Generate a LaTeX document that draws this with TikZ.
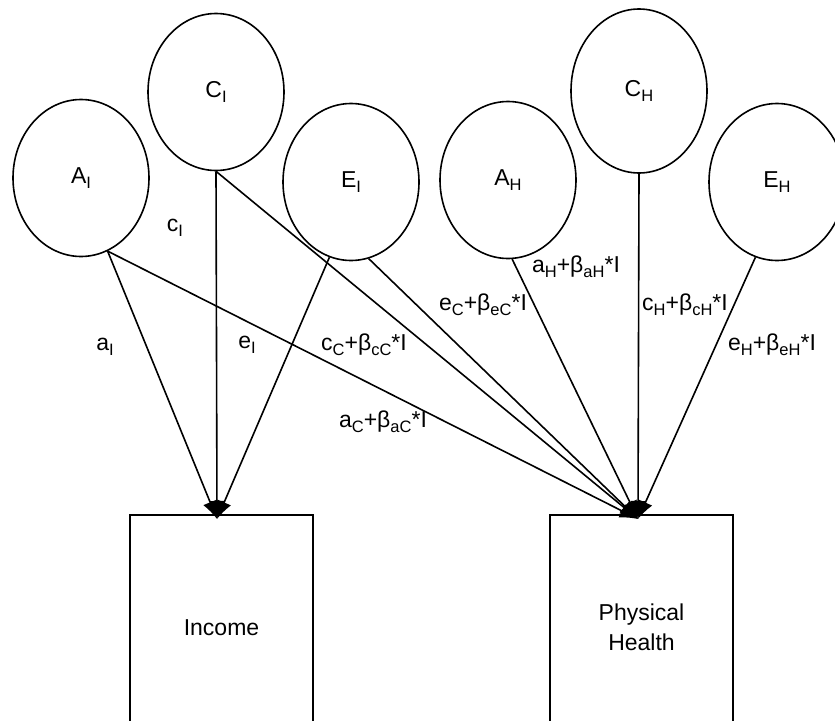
\documentclass[tikz,border=0pt]{standalone}
\usepackage{fontspec}
\setmainfont{Liberation Sans}
\usetikzlibrary{arrows.meta,shapes.geometric}
\newcommand\sbx[1]{\raisebox{-0.2em}{\fontsize{16.5}{16.5}\selectfont #1}}
\begin{document}
\begin{tikzpicture}[x=1pt,y=-1pt,
  latent/.style={draw, ellipse, line width=1.6pt, minimum width=136pt, minimum height=157pt, inner sep=0pt, font=\fontsize{23}{27}\selectfont},
  obs/.style={draw, rectangle, line width=1.8pt, minimum width=183pt, minimum height=225pt, inner sep=0pt, align=center, font=\fontsize{23}{30}\selectfont},
  arr/.style={line width=1.6pt, -{Latex[length=18pt,width=15pt]}},
  lab/.style={font=\fontsize{23}{27}\selectfont, inner sep=0pt}]
\useasboundingbox (0,0) rectangle (835,720);
\clip (0,0) rectangle (835,720);
% latent variables
\node[latent] (AI) at (81,178) {A\sbx{I}};
\node[latent] (CI) at (216,92) {C\sbx{I}};
\node[latent] (EI) at (351,182) {E\sbx{I}};
\node[latent] (AH) at (508,180) {A\sbx{H}};
\node[latent, minimum height=164pt] (CH) at (639,91) {C\sbx{H}};
\node[latent] (EH) at (777,182) {E\sbx{H}};
% observed
\node[obs] (INC) at (221.5,627.5) {Income};
\node[obs] (PH) at (641.5,627.5) {Physical\\Health};
\coordinate (tipI) at (217,519);
\coordinate (tipH) at (638,519);
% paths to income
\draw[arr] (AI.-70.6) -- (tipI);
\draw[arr] (CI.south) -- (tipI);
\draw[arr] (EI.-106) -- (tipI);
% paths to health
\draw[arr] (AI.-70.6) -- (tipH);
\draw[arr] (CI.south) -- (tipH);
\draw[arr] (EI.-77.6) -- (tipH);
\draw[arr] (AH.-87) -- (tipH);
\draw[arr] (CH.south) -- (tipH);
\draw[arr] (EH.-106.7) -- (tipH);
% labels
\node[lab] (la) at (105,347) {a\sbx{I}};
\node[lab] (lc) at (175,228) {c\sbx{I}};
\node[lab] (le) at (247,345) {e\sbx{I}};
\node[lab] (lcc) at (364,345) {c\sbx{C}+β\sbx{cC}*I};
\node[lab] (lac) at (383,422) {a\sbx{C}+β\sbx{aC}*I};
\node[lab] (lec) at (483,305) {e\sbx{C}+β\sbx{eC}*I};
\node[lab] (lah) at (576,267) {a\sbx{H}+β\sbx{aH}*I};
\node[lab] (lch) at (685,305) {c\sbx{H}+β\sbx{cH}*I};
\node[lab] (leh) at (772,345) {e\sbx{H}+β\sbx{eH}*I};
\end{tikzpicture}
\end{document}
